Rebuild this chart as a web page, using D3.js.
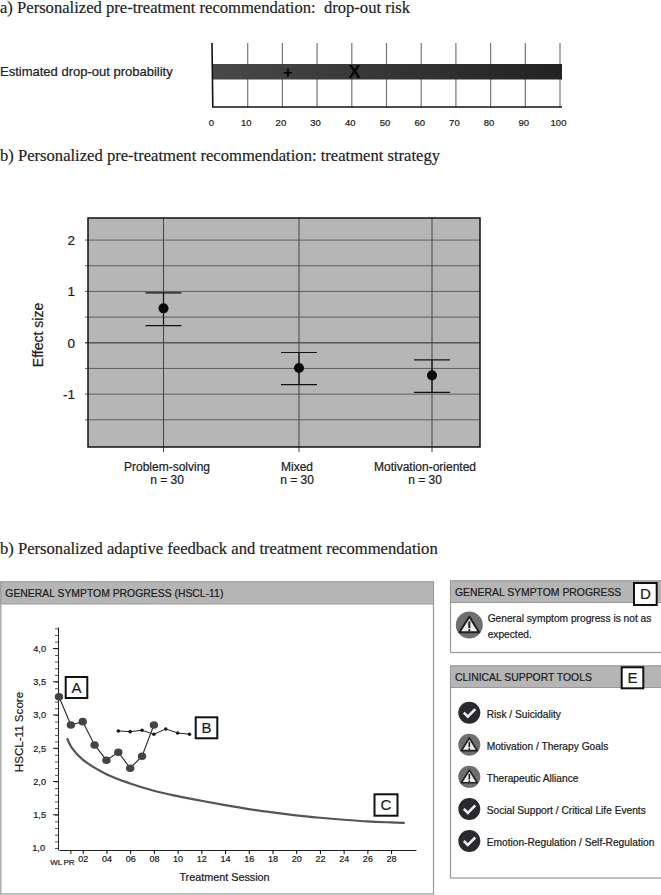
<!DOCTYPE html>
<html><head><meta charset="utf-8">
<script src="https://cdn.jsdelivr.net/npm/d3@7/dist/d3.min.js"></script>
<style>
html,body{margin:0;padding:0;background:#fff}
svg{display:block}
text{font-family:"Liberation Sans",Arial,sans-serif;fill:#1c1c1c;white-space:pre;stroke:#1c1c1c;stroke-width:.22px}
.ttl{font-family:"Liberation Serif",serif;font-size:16.6px;fill:#222;stroke:#222;stroke-width:.18px}
</style></head><body>
<svg id="c" width="661" height="895"></svg>
<script>
// Panel a
const dropTicks=d3.range(0,101,10);
const dropMarks=[{sym:"+",value:21.6},{sym:"X",value:40.8}];
// Panel b
const strategies=["Problem-solving","Mixed","Motivation-oriented"];
const strategyN=["n = 30","n = 30","n = 30"];
const effect=[0.67,-0.49,-0.635];
const effectLow=[0.335,-0.815,-0.965];
const effectHigh=[0.97,-0.19,-0.335];
const effectTicks=[2,1,0,-1];
const effectGrid=[2,1.5,1,0.5,0,-0.5,-1,-1.5];
// Panel c
const sessionTicks=[2,4,6,8,10,12,14,16,18,20,22,24,26,28];
const sessionExtra=[{s:0,label:"WL"},{s:1,label:"PR"}];
const scoreTicks=[4,3.5,3,2.5,2,1.5,1];
const patientS=[0,1,2,3,4,5,6,7,8];
const patientV=[3.275,2.85,2.90,2.55,2.32,2.44,2.20,2.38,2.85];
const refS=[5,6,7,8,9,10,11];
const refV=[2.76,2.75,2.77,2.71,2.79,2.73,2.71];
const expS=[0.68,1.07,2,4,6,8,10,12,14,16,18,20,22,24,26,28,29.15];
const expV=[2.65,2.51,2.33,2.11,1.97,1.86,1.78,1.71,1.645,1.585,1.535,1.49,1.455,1.425,1.40,1.385,1.378];
const tools=[
 {label:"Risk / Suicidality",ok:true},
 {label:"Motivation / Therapy Goals",ok:false},
 {label:"Therapeutic Alliance",ok:false},
 {label:"Social Support / Critical Life Events",ok:true},
 {label:"Emotion-Regulation / Self-Regulation",ok:true}];

const svg=d3.select("#c");
const title=(t,y)=>svg.append("text").attr("class","ttl").attr("x",0).attr("y",y).text(t);
title("a) Personalized pre-treatment recommendation:  drop-out risk",13);
title("b) Personalized pre-treatment recommendation: treatment strategy",161);
title("b) Personalized adaptive feedback and treatment recommendation",554);

// ---- a
const xA=d3.scaleLinear().domain([0,100]).range([213,560]);
const defs=svg.append("defs");
const lg=defs.append("linearGradient").attr("id","bar");
lg.append("stop").attr("offset",0).attr("stop-color","#484848");
lg.append("stop").attr("offset",1).attr("stop-color","#222");
svg.append("g").selectAll("line").data(dropTicks.slice(1)).join("line")
 .attr("x1",d=>xA(d)).attr("x2",d=>xA(d)).attr("y1",43).attr("y2",107).attr("stroke","#777").attr("stroke-width",1.2);
svg.append("rect").attr("x",xA(0)).attr("y",64).attr("width",xA(100)+2-xA(0)).attr("height",15.5).attr("fill","url(#bar)");
svg.append("line").attr("x1",212).attr("x2",212.8).attr("y1",43).attr("y2",107).attr("stroke","#111").attr("stroke-width",1.6);
svg.append("line").attr("x1",212).attr("x2",562).attr("y1",107).attr("y2",107).attr("stroke","#111").attr("stroke-width",1.6);
svg.append("g").selectAll("text").data(dropTicks).join("text")
 .attr("x",d=>xA(d)-1.5).attr("y",125.5).attr("text-anchor","middle").attr("font-size",9.5).text(d=>d);
svg.append("g").selectAll("text").data(dropMarks).join("text")
 .attr("x",d=>xA(d.value)).attr("y",d=>d.sym==="X"?78:77.5).attr("text-anchor","middle").attr("font-weight","bold")
 .attr("font-size",d=>d.sym==="X"?18:16).style("fill","#050505").text(d=>d.sym);
svg.append("text").attr("x",0).attr("y",75.5).attr("font-size",13).text("Estimated drop-out probability");

// ---- b
const xB=d3.scaleOrdinal().domain(strategies).range([163.5,299,432]);
const yB=d3.scaleLinear().domain([-2.03,2.43]).range([447,218]);
svg.append("rect").attr("x",88).attr("y",218).attr("width",392).attr("height",229).attr("fill","#b6b6b6");
svg.append("g").selectAll("line").data(effectGrid).join("line")
 .attr("x1",85).attr("x2",480).attr("y1",d=>yB(d)).attr("y2",d=>yB(d)).attr("stroke","#555").attr("stroke-width",d=>d===0?1.3:0.9);
svg.append("g").selectAll("line").data(strategies).join("line")
 .attr("x1",d=>xB(d)).attr("x2",d=>xB(d)).attr("y1",218).attr("y2",452).attr("stroke","#444").attr("stroke-width",1);
svg.append("rect").attr("x",88).attr("y",218).attr("width",392).attr("height",229).attr("fill","none").attr("stroke","#111").attr("stroke-width",1.5);
strategies.forEach((s,i)=>{
 const g=svg.append("g"),x=xB(s);
 g.append("line").attr("x1",x).attr("x2",x).attr("y1",yB(effectHigh[i])).attr("y2",yB(effectLow[i])).attr("stroke","#111").attr("stroke-width",1.2);
 [effectHigh[i],effectLow[i]].forEach(v=>g.append("line").attr("x1",x-18).attr("x2",x+18).attr("y1",yB(v)).attr("y2",yB(v)).attr("stroke","#111").attr("stroke-width",1.2));
 g.append("circle").attr("cx",x).attr("cy",yB(effect[i])).attr("r",5).attr("fill","#0a0a0a");
});
svg.append("g").selectAll("text").data(effectTicks).join("text")
 .attr("x",75).attr("y",d=>yB(d)+5).attr("text-anchor","end").attr("font-size",13.5).text(d=>d===-1?"-1":d);
const labelShift=[3.5,-2,-7];
svg.append("g").selectAll("text").data(strategies).join("text")
 .attr("x",(d,i)=>xB(d)+labelShift[i]).attr("y",471).attr("text-anchor","middle").attr("font-size",12).text(d=>d);
svg.append("g").selectAll("text").data(strategyN).join("text")
 .attr("x",(d,i)=>xB(strategies[i])+labelShift[i]).attr("y",484).attr("text-anchor","middle").attr("font-size",12).text(d=>d);
svg.append("text").attr("transform","translate(43,335) rotate(-90)").attr("text-anchor","middle").attr("font-size",14).text("Effect size");

// ---- panels
function panel(x0,y0,x1,y1,hy,t){
 svg.append("rect").attr("x",x0).attr("y",y0).attr("width",x1-x0).attr("height",y1-y0).attr("fill","#fff").attr("stroke","#999").attr("stroke-width",1.2);
 svg.append("rect").attr("x",x0).attr("y",y0).attr("width",x1-x0).attr("height",hy-y0).attr("fill","#b5b5b5").attr("stroke","#999").attr("stroke-width",1);
 svg.append("text").attr("x",x0+4.5).attr("y",(y0+hy)/2+4).attr("font-size",10.4).text(t);
}
function tag(x0,y0,x1,y1,t){
 svg.append("rect").attr("x",x0).attr("y",y0).attr("width",x1-x0).attr("height",y1-y0).attr("fill","#fff").attr("stroke","#111").attr("stroke-width",2);
 svg.append("text").attr("x",(x0+x1)/2).attr("y",(y0+y1)/2+5.3).attr("text-anchor","middle").attr("font-size",15).text(t);
}
panel(0.8,582,433.5,894,604,"GENERAL SYMPTOM PROGRESS (HSCL-11)");
panel(450.5,581,661.5,652.5,602.5,"GENERAL SYMPTOM PROGRESS");
panel(450.5,666,661.5,878,687.5,"CLINICAL SUPPORT TOOLS");

// ---- c
const xC=d3.scaleLinear().domain([0,30.1]).range([59,416]);
const yC=d3.scaleLinear().domain([1,4]).range([848,648.5]);
const gx=svg.append("g").attr("transform","translate(0,850)").call(
  d3.axisBottom(xC).tickValues(sessionTicks).tickFormat(d=>String(d).padStart(2,"0")).tickSize(4).tickSizeOuter(0));
gx.selectAll("text").attr("font-family",'"Liberation Sans"').attr("font-size",9).attr("dy","0.55em");
gx.select(".domain").attr("stroke","#222").attr("stroke-width",1);
svg.append("g").selectAll("text").data(sessionExtra).join("text")
 .attr("x",d=>xC(d.s)-(d.s?1.9:2.7)).attr("y",865).attr("text-anchor","middle").attr("font-size",8).text(d=>d.label);
svg.append("line").attr("x1",xC(1)).attr("x2",xC(1)).attr("y1",850).attr("y2",854).attr("stroke","#222");
const gy=svg.append("g").attr("transform","translate(58,0)").call(
  d3.axisLeft(yC.copy().domain([0.97,4.32]).range([850,627])).tickValues(d3.range(1,4.31,0.1)).tickFormat("").tickSize(3).tickSizeOuter(0));
gy.select(".domain").attr("stroke","#222").attr("stroke-width",1);
gy.selectAll(".tick line").attr("stroke","#555");
svg.append("g").selectAll("line").data(scoreTicks.slice(0,-1)).join("line")
 .attr("x1",53).attr("x2",58).attr("y1",d=>yC(d)).attr("y2",d=>yC(d)).attr("stroke","#222");
svg.append("g").selectAll("text").data(scoreTicks).join("text")
 .attr("x",d=>d===1?45:46).attr("y",d=>yC(d)+3.3).attr("text-anchor","end").attr("font-size",9.2)
 .text(d=>d3.format(".1f")(d).replace(".",","));
svg.append("text").attr("transform","translate(23,732) rotate(-90)").attr("text-anchor","middle").attr("font-size",11.6).text("HSCL-11 Score");
svg.append("text").attr("x",224.5).attr("y",881).attr("text-anchor","middle").attr("font-size",10.8).text("Treatment Session");

const ln=(S,V)=>d3.line().x((d,i)=>xC(S[i])).y((d,i)=>yC(V[i]));
svg.append("path").datum(expV).attr("d",ln(expS,expV).curve(d3.curveCatmullRom)).attr("fill","none").attr("stroke","#555").attr("stroke-width",2.2);
svg.append("path").datum(refV).attr("d",ln(refS,refV)).attr("fill","none").attr("stroke","#222").attr("stroke-width",1);
svg.append("g").selectAll("circle").data(refV).join("circle")
 .attr("cx",(d,i)=>xC(refS[i])).attr("cy",d=>yC(d)).attr("r",1.8).attr("fill","#1a1a1a");
svg.append("path").datum(patientV).attr("d",ln(patientS,patientV)).attr("fill","none").attr("stroke","#333").attr("stroke-width",1.2);
svg.append("g").selectAll("ellipse").data(patientV).join("ellipse")
 .attr("cx",(d,i)=>xC(patientS[i])).attr("cy",d=>yC(d)).attr("rx",4.2).attr("ry",3.8).attr("fill","#444");
tag(65.7,677,87.3,698,"A");
tag(195.7,717.3,217.3,738.3,"B");
tag(374.5,794.3,397.5,815.7,"C");

// ---- side panels
tag(634,583,656.7,605,"D");
tag(621.7,667.3,643.3,688.3,"E");
function warn(cx,cy,r){
 const g=svg.append("g").attr("transform",`translate(${cx},${cy})`),k=r/13;
 g.append("circle").attr("r",r).attr("fill","#6f6f6f");
 g.append("path").attr("d",`M0,${-8*k}L${9.5*k},${7*k}L${-9.5*k},${7*k}Z`).attr("fill","#eee").attr("stroke","#222").attr("stroke-width",2*k).attr("stroke-linejoin","round");
 g.append("rect").attr("x",-1*k).attr("y",-3.5*k).attr("width",2*k).attr("height",6.5*k).attr("fill","#222");
 g.append("circle").attr("cy",5*k).attr("r",1.1*k).attr("fill","#222");
}
function okIcon(cx,cy,r){
 const g=svg.append("g").attr("transform",`translate(${cx},${cy})`),k=r/11;
 g.append("circle").attr("r",r).attr("fill","#2a2a2e");
 g.append("path").attr("d",`M${-5.5*k},${0*k}L${-1.5*k},${4*k}L${6*k},${-3.5*k}`).attr("fill","none").attr("stroke","#eee").attr("stroke-width",2.6*k);
}
warn(469.3,625,13.5);
svg.append("text").attr("x",487.7).attr("y",621.5).attr("font-size",10.2).text("General symptom progress is not as");
svg.append("text").attr("x",487.7).attr("y",637.5).attr("font-size",10.2).text("expected.");
const iconY=d3.scalePoint().domain(tools.map(d=>d.label)).range([712.7,841]);
tools.forEach(t=>{
 const y=iconY(t.label);
 (t.ok?okIcon:warn)(469.3,y,11);
 svg.append("text").attr("x",486.7).attr("y",y+5).attr("font-size",10.2).text(t.label);
});
</script>
</body></html>
